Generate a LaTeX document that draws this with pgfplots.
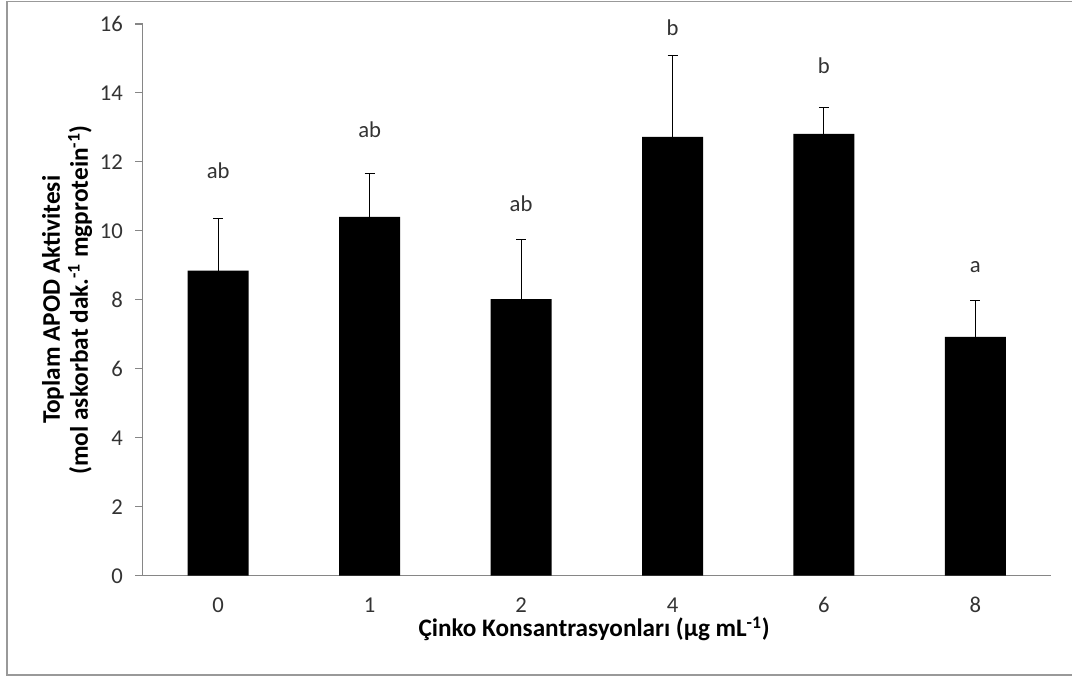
\documentclass[border=0pt]{standalone}
\usepackage{pgfplots}
\pgfplotsset{compat=1.18}
\usepackage{fontspec}
\setmainfont{Carlito}
\definecolor{axisgray}{HTML}{868686}
\definecolor{txt}{HTML}{333333}
\newcommand{\tkf}{\fontsize{17}{20}\selectfont}
\begin{document}
\begin{tikzpicture}[font=\tkf]
\useasboundingbox (-106.9pt,-76pt) rectangle (697.1pt,431.8pt);
\draw[black!40, line width=1.2pt] (700pt,430.6pt) -- (-101.6pt,430.6pt) -- (-101.6pt,-74.5pt) -- (700pt,-74.5pt);
\begin{axis}[
  at={(0,0)}, anchor=south west,
  width=681.4pt, height=413.8pt, scale only axis,
  xmin=-0.5, xmax=5.5, ymin=0, ymax=16,
  axis x line*=bottom, axis y line*=left,
  axis line style={draw=axisgray, line width=1pt},
  xtick={0,1,2,3,4,5},
  xticklabels={0,1,2,4,6,8},
  xtick style={draw=none},
  ytick={0,2,4,6,8,10,12,14,16},
  ytick style={draw=axisgray, line width=0.8pt},
  tick align=outside, major tick length=5.5pt,
  /pgf/number format/assume math mode=true,
  tick label style={font=\tkf, text=txt},
  xticklabel style={inner sep=0pt, text height=10.7pt, text depth=0pt, anchor=north, yshift=-11.2pt},
  yticklabel style={anchor=east, inner sep=0pt, xshift=-9pt},
  clip=false,
  xlabel={\textbf{Çinko Konsantrasyonları (µg mL\textsuperscript{-1})}},
  xlabel style={at={(axis description cs:0.497,-0.1106)}, anchor=base, inner sep=0pt, font=\fontsize{18.9}{21}\selectfont, text=black},
  ylabel={\textbf{Toplam APOD Aktivitesi}\\\textbf{(mol askorbat dak.\textsuperscript{-1} mgprotein\textsuperscript{-1})}},
  ylabel style={at={(axis description cs:-0.083,0.5)}, anchor=center, rotate=0, align=center, inner sep=0pt, font=\fontsize{19}{21}\selectfont, text=black},
]
\addplot[ybar, bar width=45.75pt, fill=black, draw=none,
  error bars/.cd, y dir=plus, y explicit,
  error bar style={black, line width=0.75pt},
  error mark options={rotate=90, mark size=3.75pt, line width=0.75pt, black}]
table[x=x, y=y, y error=e] {
x y e
0 8.85 1.52
1 10.41 1.24
2 8.02 1.74
3 12.73 2.35
4 12.81 0.78
5 6.93 1.05
};
\addplot[only marks, mark=none, nodes near coords, point meta=explicit symbolic,
  nodes near coords style={anchor=base, inner sep=0pt, text=txt, font=\tkf}]
table[x=x, y=y, meta=lab] {
x y lab
0 11.53 ab
1 12.70 ab
2 10.56 ab
3 15.68 b
4 14.55 b
5 8.79 a
};
\end{axis}
\end{tikzpicture}
\end{document}
